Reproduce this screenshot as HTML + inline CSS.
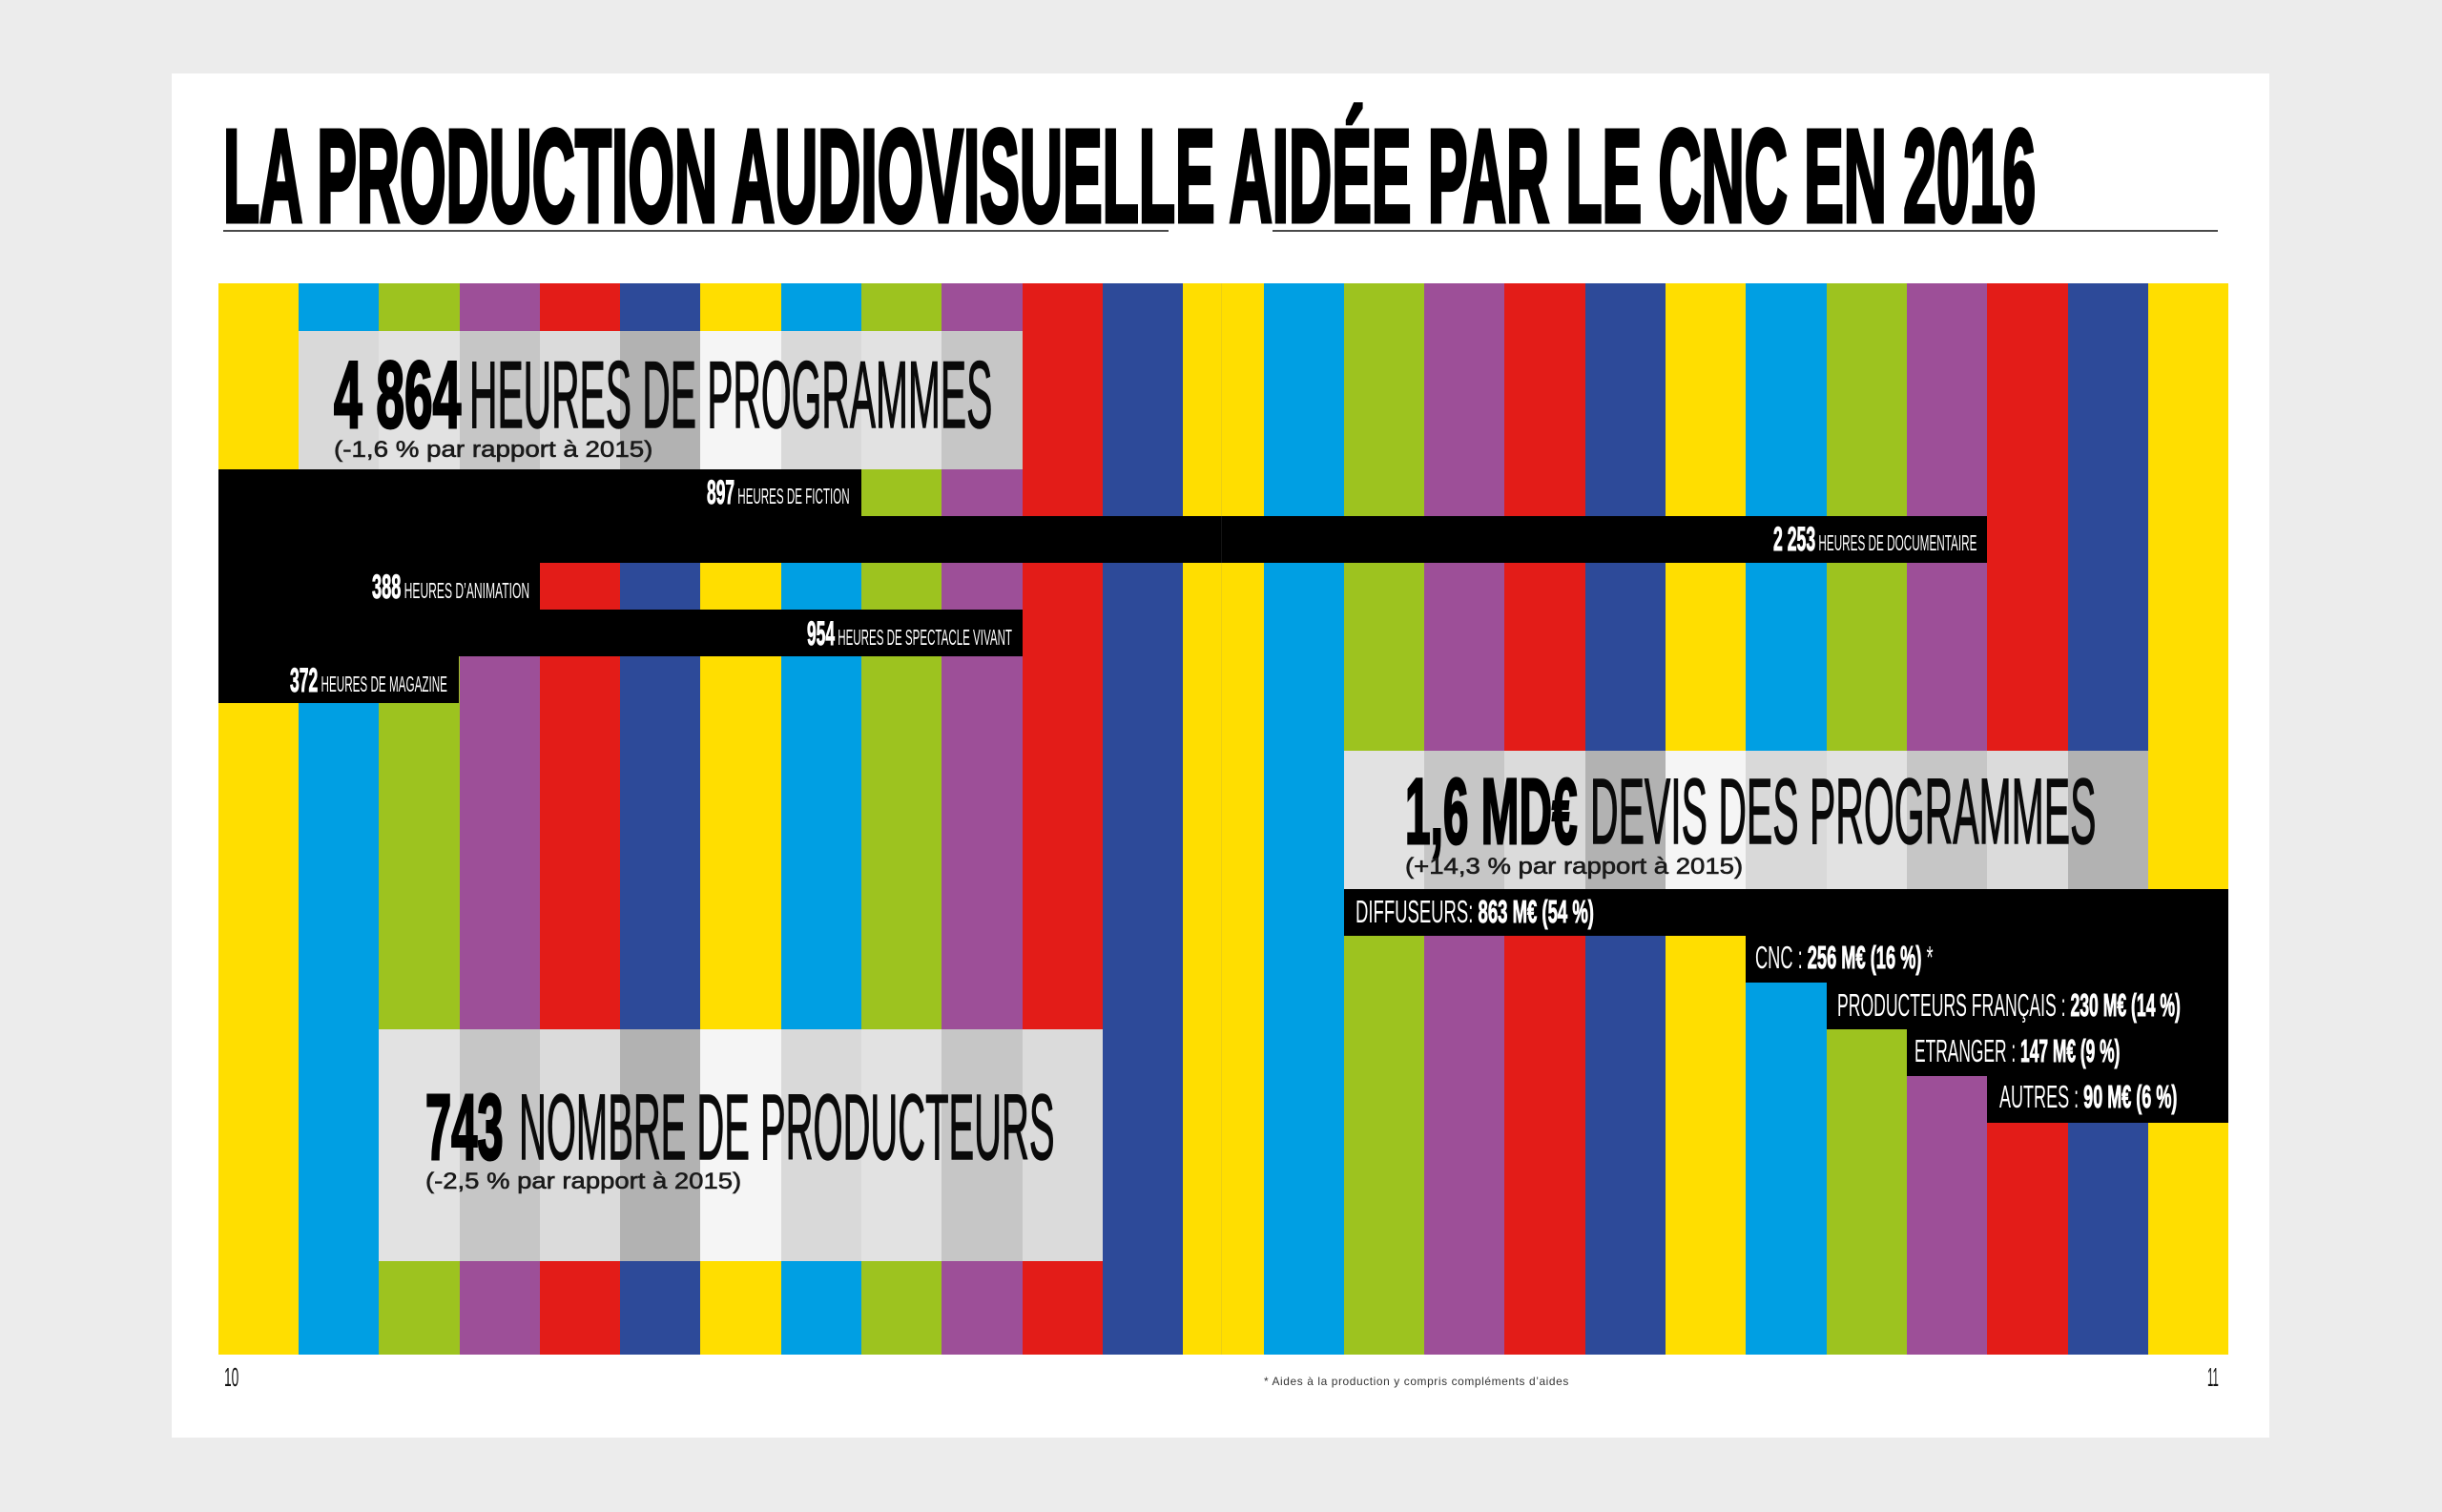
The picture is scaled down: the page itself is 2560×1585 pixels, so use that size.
<!DOCTYPE html>
<html><head><meta charset="utf-8">
<style>
html,body{margin:0;padding:0}
body{width:2560px;height:1585px;background:#ececec;position:relative;overflow:hidden;font-family:"Liberation Sans",sans-serif}
.card{position:absolute;left:180px;top:77px;width:2199px;height:1430px;background:#fff}
.s{position:absolute;top:297px;height:1122.5px;width:84.8px}
.Y{background:#FFDE00}.C{background:#009FE3}.G{background:#9DC31F}.P{background:#9D4F98}.R{background:#E31C18}.B{background:#2D4A99}
.g{position:absolute;width:84.8px}
.gY{background:#f5f5f5}.gC{background:#d9d9d9}.gG{background:#e2e2e2}.gP{background:#c6c6c6}.gR{background:#dbdbdb}.gB{background:#b2b2b2}
.k{position:absolute;background:#000;height:49.4px}
.fit{position:absolute;line-height:1;white-space:nowrap}
.fit>span{display:inline-block;white-space:nowrap;transform-origin:0 0;transform:scaleX(.45)}
.hb{font-weight:bold;-webkit-text-stroke:3px currentColor}
.hr{font-weight:normal;-webkit-text-stroke:1.5px currentColor}
.sub{font-weight:normal;color:#1a1a1a;-webkit-text-stroke:0.6px #1a1a1a}
.w{color:#fff}
.lb{font-weight:bold;-webkit-text-stroke:1px #fff}
.ln{font-weight:normal}
.rule{position:absolute;height:2px;background:#4a4a4a;top:241px}
</style></head><body>
<div class="card"></div>

<!-- title -->
<div class="fit" style="left:234px;top:116.2px;width:1900px;font-size:138px;color:#000"><span class="hb" style="-webkit-text-stroke:5px #000;transform:scaleX(.41)">LA PRODUCTION AUDIOVISUELLE AIDÉE PAR LE CNC EN 2016</span></div>
<div class="rule" style="left:234px;width:991px"></div>
<div class="rule" style="left:1334px;width:991px"></div>

<!-- stripes -->
<div class="s Y" style="left:228.6px"></div>
<div class="s C" style="left:312.9px"></div>
<div class="s G" style="left:397.2px"></div>
<div class="s P" style="left:481.5px"></div>
<div class="s R" style="left:565.8px"></div>
<div class="s B" style="left:650.1px"></div>
<div class="s Y" style="left:734.4px"></div>
<div class="s C" style="left:818.7px"></div>
<div class="s G" style="left:903px"></div>
<div class="s P" style="left:987.3px"></div>
<div class="s R" style="left:1071.6px"></div>
<div class="s B" style="left:1155.9px"></div>
<div class="s Y" style="left:1240.2px"></div>
<div class="s C" style="left:1324.5px"></div>
<div class="s G" style="left:1408.8px"></div>
<div class="s P" style="left:1493.1px"></div>
<div class="s R" style="left:1577.4px"></div>
<div class="s B" style="left:1661.7px"></div>
<div class="s Y" style="left:1746px"></div>
<div class="s C" style="left:1830.3px"></div>
<div class="s G" style="left:1914.6px"></div>
<div class="s P" style="left:1998.9px"></div>
<div class="s R" style="left:2083.2px"></div>
<div class="s B" style="left:2167.5px"></div>
<div class="s Y" style="left:2251.8px;width:84.3px"></div>

<!-- gray box 1 -->
<div class="g gC" style="left:312.9px;top:347px;height:144.5px"></div>
<div class="g gG" style="left:397.2px;top:347px;height:144.5px"></div>
<div class="g gP" style="left:481.5px;top:347px;height:144.5px"></div>
<div class="g gR" style="left:565.8px;top:347px;height:144.5px"></div>
<div class="g gB" style="left:650.1px;top:347px;height:144.5px"></div>
<div class="g gY" style="left:734.4px;top:347px;height:144.5px"></div>
<div class="g gC" style="left:818.7px;top:347px;height:144.5px"></div>
<div class="g gG" style="left:903px;top:347px;height:144.5px"></div>
<div class="g gP" style="left:987.3px;top:347px;height:144.5px;width:84.3px"></div>

<!-- gray box 2 -->
<div class="g gG" style="left:397.2px;top:1078.5px;height:243px"></div>
<div class="g gP" style="left:481.5px;top:1078.5px;height:243px"></div>
<div class="g gR" style="left:565.8px;top:1078.5px;height:243px"></div>
<div class="g gB" style="left:650.1px;top:1078.5px;height:243px"></div>
<div class="g gY" style="left:734.4px;top:1078.5px;height:243px"></div>
<div class="g gC" style="left:818.7px;top:1078.5px;height:243px"></div>
<div class="g gG" style="left:903px;top:1078.5px;height:243px"></div>
<div class="g gP" style="left:987.3px;top:1078.5px;height:243px"></div>
<div class="g gR" style="left:1071.6px;top:1078.5px;height:243px;width:84.3px"></div>

<!-- gray box 3 -->
<div class="g gG" style="left:1408.8px;top:787.3px;height:144.4px"></div>
<div class="g gP" style="left:1493.1px;top:787.3px;height:144.4px"></div>
<div class="g gR" style="left:1577.4px;top:787.3px;height:144.4px"></div>
<div class="g gB" style="left:1661.7px;top:787.3px;height:144.4px"></div>
<div class="g gY" style="left:1746px;top:787.3px;height:144.4px"></div>
<div class="g gC" style="left:1830.3px;top:787.3px;height:144.4px"></div>
<div class="g gG" style="left:1914.6px;top:787.3px;height:144.4px"></div>
<div class="g gP" style="left:1998.9px;top:787.3px;height:144.4px"></div>
<div class="g gR" style="left:2083.2px;top:787.3px;height:144.4px"></div>
<div class="g gB" style="left:2167.5px;top:787.3px;height:144.4px;width:84.3px"></div>

<!-- left black bars -->
<div class="k" style="left:228.6px;top:491.5px;width:674.4px"></div>
<div class="k" style="left:228.6px;top:540.7px;width:1854.6px"></div>
<div class="k" style="left:228.6px;top:589.9px;width:337.2px"></div>
<div class="k" style="left:228.6px;top:639.1px;width:843px"></div>
<div class="k" style="left:228.6px;top:688.3px;width:252.9px;height:49.2px"></div>

<!-- right black bars -->
<div class="k" style="left:1408.8px;top:931.5px;width:927.3px"></div>
<div class="k" style="left:1830.3px;top:980.7px;width:505.8px"></div>
<div class="k" style="left:1914.6px;top:1029.9px;width:421.5px"></div>
<div class="k" style="left:1998.9px;top:1079.1px;width:337.2px"></div>
<div class="k" style="left:2083.2px;top:1128.3px;width:252.9px;height:49.2px"></div>

<!-- gutter line -->
<div style="position:absolute;left:1280px;top:297px;width:1px;height:1122.5px;background:rgba(128,128,128,0.15)"></div>

<!-- box texts -->
<div class="fit" style="left:349.7px;top:363.5px;width:133.3px;font-size:99px;color:#000"><span class="hb" style="transform:scaleX(.5)">4 864</span></div>
<div class="fit" style="left:491.5px;top:363.5px;width:548.2px;font-size:99px;color:#0a0a0a"><span class="hr" style="transform:scaleX(.45)">HEURES DE PROGRAMMES</span></div>
<div class="fit" style="left:349.7px;top:459.7px;width:335px;font-size:24px"><span class="sub" style="transform:scaleX(1)">(-1,6 % par rapport à 2015)</span></div>

<div class="fit" style="left:1472.7px;top:801.5px;width:180.3px;font-size:97.5px;color:#000"><span class="hb" style="transform:scaleX(.5)">1,6 MD€</span></div>
<div class="fit" style="left:1666.7px;top:801.5px;width:530.3px;font-size:97.5px;color:#0a0a0a"><span class="hr" style="transform:scaleX(.45)">DEVIS DES PROGRAMMES</span></div>
<div class="fit" style="left:1472.7px;top:897.2px;width:354.3px;font-size:24px"><span class="sub" style="transform:scaleX(1)">(+14,3 % par rapport à 2015)</span></div>

<div class="fit" style="left:446.3px;top:1132.5px;width:81.7px;font-size:97.5px;color:#000"><span class="hb" style="transform:scaleX(.5)">743</span></div>
<div class="fit" style="left:544.3px;top:1132.5px;width:561.7px;font-size:97.5px;color:#0a0a0a"><span class="hr" style="transform:scaleX(.45)">NOMBRE DE PRODUCTEURS</span></div>
<div class="fit" style="left:446.3px;top:1227.2px;width:331.7px;font-size:24px"><span class="sub" style="transform:scaleX(1)">(-2,5 % par rapport à 2015)</span></div>

<!-- left bar labels -->
<div class="fit w" style="left:740.6px;top:499.2px;width:149.4px;font-size:35px"><span style="transform:scaleX(.5)"><b class="lb">897</b><span class="ln" style="font-size:23.3px"> HEURES DE FICTION</span></span></div>
<div class="fit w" style="left:1859px;top:548.4px;width:213.6px;font-size:35px"><span style="transform:scaleX(.5)"><b class="lb">2 253</b><span class="ln" style="font-size:23.3px"> HEURES DE DOCUMENTAIRE</span></span></div>
<div class="fit w" style="left:390px;top:597.6px;width:165px;font-size:35px"><span style="transform:scaleX(.5)"><b class="lb">388</b><span class="ln" style="font-size:23.3px"> HEURES D’ANIMATION</span></span></div>
<div class="fit w" style="left:846px;top:646.8px;width:215px;font-size:35px"><span style="transform:scaleX(.5)"><b class="lb">954</b><span class="ln" style="font-size:23.3px"> HEURES DE SPECTACLE VIVANT</span></span></div>
<div class="fit w" style="left:304px;top:696px;width:165px;font-size:35px"><span style="transform:scaleX(.5)"><b class="lb">372</b><span class="ln" style="font-size:23.3px"> HEURES DE MAGAZINE</span></span></div>

<!-- right bar labels -->
<div class="fit w" style="left:1421px;top:939.7px;width:250px;font-size:33.4px"><span style="transform:scaleX(.5)"><span class="ln">DIFFUSEURS: </span><b class="lb">863 M€ (54 %)</b></span></div>
<div class="fit w" style="left:1840.4px;top:988.4px;width:186.4px;font-size:33.4px"><span style="transform:scaleX(.5)"><span class="ln">CNC :  </span><b class="lb">256 M€ (16 %)</b><span class="ln"> *</span></span></div>
<div class="fit w" style="left:1925.7px;top:1037.5px;width:360px;font-size:33.4px"><span style="transform:scaleX(.5)"><span class="ln">PRODUCTEURS FRANÇAIS  : </span><b class="lb">230 M€ (14 %)</b></span></div>
<div class="fit w" style="left:2007px;top:1085.7px;width:215.5px;font-size:33.4px"><span style="transform:scaleX(.5)"><span class="ln">ETRANGER : </span><b class="lb">147 M€ (9 %)</b></span></div>
<div class="fit w" style="left:2095.7px;top:1133.7px;width:186.3px;font-size:33.4px"><span style="transform:scaleX(.5)"><span class="ln">AUTRES :  </span><b class="lb">90 M€ (6 %)</b></span></div>

<!-- footer -->
<div class="fit" style="left:235px;top:1429.6px;width:15.5px;font-size:27.6px;color:#111"><span style="transform:scaleX(.5)">10</span></div>
<div class="fit" style="left:2314px;top:1429.6px;width:12px;font-size:27.6px;color:#111"><span style="transform:scaleX(.4)">11</span></div>
<div class="fit" style="left:1325px;top:1441.8px;width:320px;font-size:12px;color:#333"><span style="transform:scaleX(1);letter-spacing:0.6px">* Aides à la production y compris compléments d’aides</span></div>

<script>
(function(){
  var els=document.querySelectorAll('.fit');
  for(var i=0;i<els.length;i++){
    var el=els[i],inner=el.firstElementChild;
    var w=inner.offsetWidth,t=parseFloat(el.style.width);
    if(w>0&&t>0){inner.style.transform='scaleX('+(t/w)+')';}
  }
})();
</script>
</body></html>
